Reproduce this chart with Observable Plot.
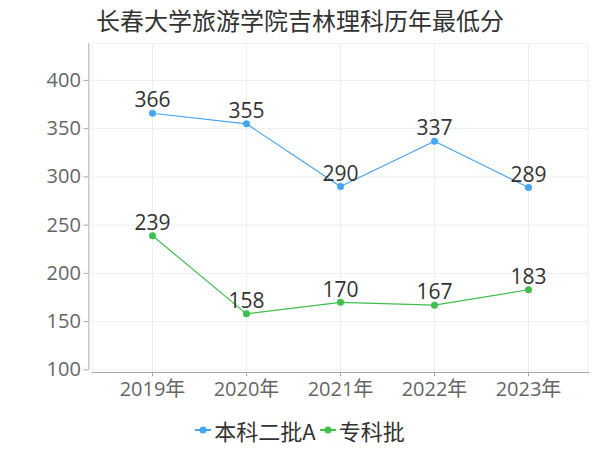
<!DOCTYPE html>
<html><head><meta charset="utf-8">
<script src="https://cdn.jsdelivr.net/npm/d3@7"></script>
<script src="https://cdn.jsdelivr.net/npm/@observablehq/plot@0.6"></script>
<style>
body{margin:0;background:#fff;font-family:"Open Sans","Noto Sans CJK SC",sans-serif;}
#wrap{width:600px;height:450px;position:relative;overflow:hidden}
#title{height:40px;line-height:40px;text-align:center;font-size:24px;color:#333;font-family:"Noto Sans CJK SC",sans-serif;}
#chart svg{display:block}
#legend{display:flex;justify-content:center;align-items:center;height:40px;font-size:22px;color:#333;font-family:"Noto Sans CJK SC",sans-serif;}
.item{display:flex;align-items:center;margin:0 2px}
.item svg{margin-right:3px}
</style></head><body>
<div id="wrap"><div id="title">长春大学旅游学院吉林理科历年最低分</div><div id="chart"></div><div id="legend"></div></div>
<script>
const years = ["2019年","2020年","2021年","2022年","2023年"];
const seriesNames = ["本科二批A","专科批"];
const benke = [366,355,290,337,289];
const zhuanke = [239,158,170,167,183];
const colors = ["#42a5f5","#3fbf50"];
const yTicks = [100,150,200,250,300,350,400];

const data = [
  ...years.map((y,i)=>({year:y, value:benke[i], series:seriesNames[0]})),
  ...years.map((y,i)=>({year:y, value:zhuanke[i], series:seriesNames[1]}))
];
const font = '"Open Sans", "Noto Sans CJK SC", sans-serif';
const chart = Plot.plot({
  width:600, height:370,
  marginTop:3, marginBottom:38, marginLeft:92, marginRight:12,
  style:{fontFamily:font, background:"transparent"},
  x:{type:"point", domain:years, range:[151.7,528.3], padding:0, label:null},
  y:{domain:[100,438], range:[329.3,3.3], label:null},
  color:{domain:seriesNames, range:colors},
  marks:[
    Plot.frame({stroke:"#f2f2f2"}),
    Plot.gridY(yTicks,{stroke:"#efefef", strokeOpacity:1}),
    Plot.gridX(years,{stroke:"#efefef", strokeOpacity:1}),
    Plot.frame({anchor:"bottom", stroke:"#aaa"}),
    Plot.frame({anchor:"left", stroke:"#aaa", dx:-3.6, insetBottom:3}),
    Plot.axisY(yTicks,{tickSize:5, tickPadding:3, dx:-3.6, fontSize:20, fill:"#666", stroke:"#aaa", label:null}),
    Plot.axisX(years,{tickSize:4, tickPadding:5, fontSize:20, fill:"#666", stroke:"#aaa", label:null}),
    Plot.line(data,{x:"year", y:"value", stroke:"series", strokeWidth:1.2}),
    Plot.dot(data,{x:"year", y:"value", fill:"series", r:3.5}),
    Plot.text(data,{x:"year", y:"value", text:"value", dy:-12.5, fontSize:21, fill:"#333"})
  ]
});
document.getElementById("chart").appendChild(chart);

const legend = document.getElementById("legend");
seriesNames.forEach((name,i)=>{
  const item = document.createElement("div");
  item.className = "item";
  item.innerHTML = `<svg width="16" height="10"><line x1="0" y1="5" x2="16" y2="5" stroke="${colors[i]}" stroke-width="2"/><circle cx="8" cy="5" r="3.5" fill="${colors[i]}"/></svg><span>${name}</span>`;
  legend.appendChild(item);
});
</script>
</body></html>
